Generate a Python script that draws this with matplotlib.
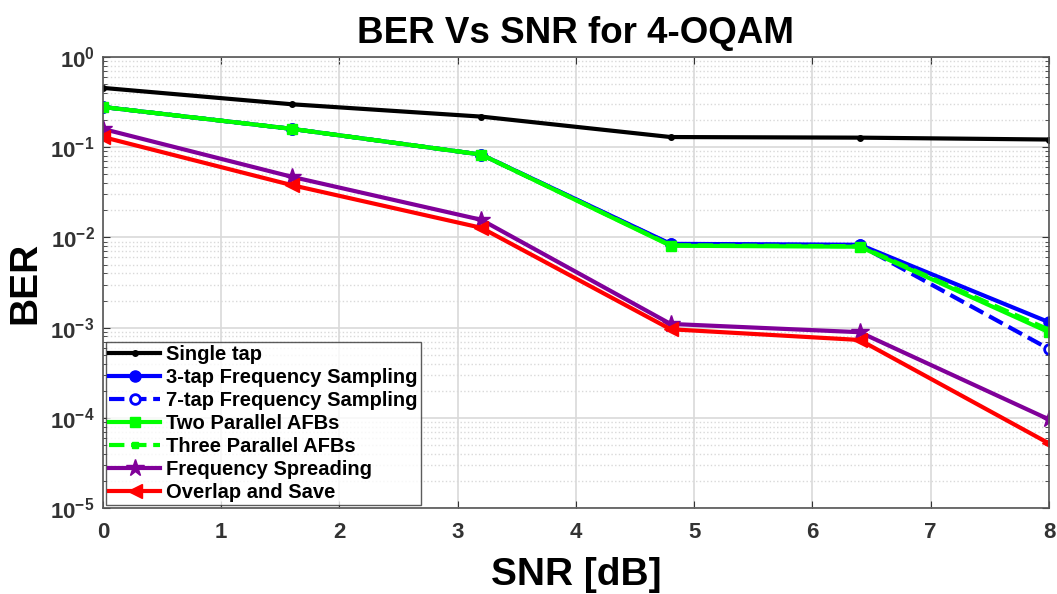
import numpy as np
from matplotlib import pyplot as plt

snr = [0, 1.6, 3.2, 4.8, 6.4, 8]

#BER values
single_tap = [0.456, 0.30, 0.219, 0.13, 0.128, 0.122]
fs3 = [0.28, 0.16, 0.083, 0.0085, 0.0083, 0.00115]
fs7 = [0.28, 0.16, 0.083, 0.0084, 0.0082, 0.00058]
afb2 = [0.28, 0.16, 0.083, 0.0081, 0.0079, 0.00089]
afb3 = [0.28, 0.16, 0.083, 0.0082, 0.0080, 0.00095]
freq_spread = [0.16, 0.047, 0.0157, 0.0011, 0.00089, 0.000096]
ols = [0.13, 0.038, 0.0128, 0.00096, 0.00073, 0.000052]

plt.rcParams['font.family'] = ['Arial', 'Liberation Sans', 'DejaVu Sans']
plt.rcParams['font.weight'] = 'bold'

fig = plt.figure(figsize=(10.57, 5.94), dpi=100)
ax = fig.add_axes([0.0974, 0.1448, 0.895, 0.759])

lw = 3
ax.semilogy(snr, single_tap, '-', color='k', marker='.', markersize=8, lw=lw, label='Single tap')
ax.semilogy(snr, fs3, '-', color='b', marker='o', markersize=8, lw=lw, label='3-tap Frequency Sampling')
ax.semilogy(snr, fs7, '--', color='b', marker='o', markerfacecolor='w', markersize=7, mew=2, lw=lw, label='7-tap Frequency Sampling')
ax.semilogy(snr, afb2, '-', color=(0, 1, 0), marker='s', markersize=7, lw=lw, label='Two Parallel AFBs')
ax.semilogy(snr, afb3, '--', color=(0, 1, 0), marker='s', markerfacecolor=(0, 1, 0), markersize=5, lw=lw, label='Three Parallel AFBs')
ax.semilogy(snr, freq_spread, '-', color=(0.5, 0, 0.6), marker='*', markersize=13, lw=lw, label='Frequency Spreading')
ax.semilogy(snr, ols, '-', color='r', marker='<', markersize=10, lw=lw, label='Overlap and Save')

ax.set_xlim(0, 8)
ax.set_ylim(1e-5, 1)
ax.set_xticks(range(9))
ax.grid(True, which='major', color='#d9d9d9', lw=1.2)
ax.grid(True, which='minor', color='#d9d9d9', ls=':', lw=1.0)
for s in ax.spines.values():
    s.set_color('#555555')
    s.set_linewidth(1.2)
ax.tick_params(which='both', direction='in', colors='#333333', labelsize=16, top=True, right=True)
ax.tick_params(axis='x', which='major', pad=10)
ax.tick_params(axis='y', which='major', pad=6)
ax.tick_params(which='major', length=5)
ax.tick_params(which='minor', length=3)
for t in ax.get_xticklabels() + ax.get_yticklabels():
    t.set_fontweight('bold')

ax.set_title('BER Vs SNR for 4-OQAM', fontsize=26.5, fontweight='bold', pad=10)
ax.set_xlabel('SNR [dB]', fontsize=28, fontweight='bold', labelpad=10)
ax.set_ylabel('BER', fontsize=28, fontweight='bold', labelpad=5)

leg = ax.legend(loc='lower left', prop={'weight': 'bold', 'size': 14.5}, fancybox=False,
                edgecolor='#333333', borderaxespad=0.15, handlelength=2.55, handletextpad=0.3,
                labelspacing=0.2, borderpad=0.15)
leg.get_frame().set_linewidth(1.0)

fig.savefig('out.png', dpi=100)
